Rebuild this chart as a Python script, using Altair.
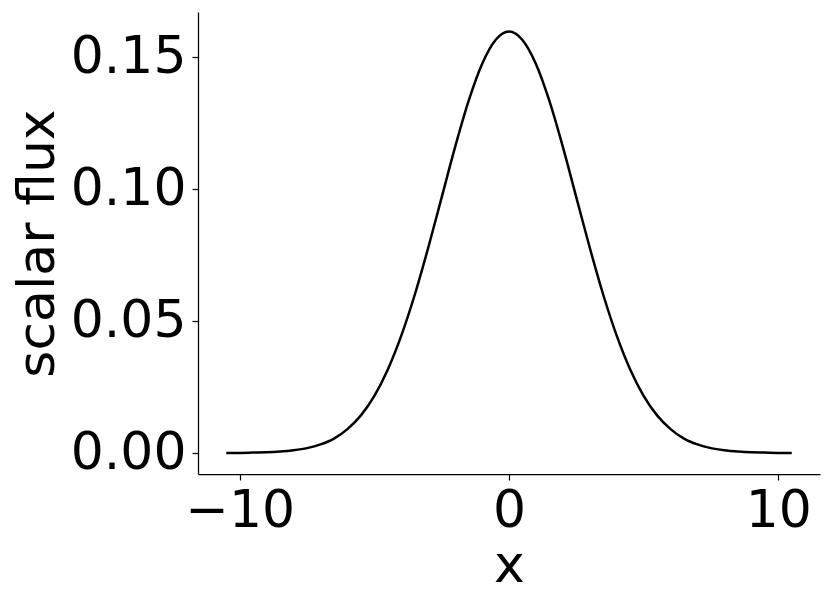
import altair as alt
import pandas as pd

# values
x_vals = [-10.5, -10.0, -9.5, -9.0, -8.5, -8.0, -7.5, -7.0, -6.5, -6.0, -5.5, -5.0,
          -4.5, -4.0, -3.5, -3.0, -2.5, -2.0, -1.5, -1.0, -0.5, 0.0,
          0.5, 1.0, 1.5, 2.0, 2.5, 3.0, 3.5, 4.0, 4.5, 5.0, 5.5, 6.0,
          6.5, 7.0, 7.5, 8.0, 8.5, 9.0, 9.5, 10.0, 10.5]
flux_vals = [0.0000, 0.0000, 0.0001, 0.0002, 0.0005, 0.0010, 0.0018, 0.0032, 0.0054, 0.0090, 0.0142, 0.0216,
             0.0316, 0.0444, 0.0599, 0.0777, 0.0968, 0.1159, 0.1333, 0.1473, 0.1564, 0.1596,
             0.1564, 0.1473, 0.1333, 0.1159, 0.0968, 0.0777, 0.0599, 0.0444, 0.0316, 0.0216, 0.0142, 0.0090,
             0.0054, 0.0032, 0.0018, 0.0010, 0.0005, 0.0002, 0.0001, 0.0000, 0.0000]
x_ticks = [-10, 0, 10]
y_ticks = [0.0, 0.05, 0.10, 0.15]

df = pd.DataFrame({"x": x_vals, "flux": flux_vals})

FONT = "DejaVu Sans"
FS = 52

chart = alt.Chart(df).mark_line(color="black", strokeWidth=2.5, interpolate="monotone").encode(
    x=alt.X("x:Q",
            scale=alt.Scale(domain=[-11.55, 11.55], nice=False, zero=False),
            axis=alt.Axis(values=x_ticks, title="x", format="d", grid=False,
                          domainColor="black", domainWidth=1.25, tickColor="black",
                          tickWidth=1.25, tickSize=6, labelPadding=5,
                          labelFont=FONT, labelFontSize=FS, labelColor="black",
                          titleFont=FONT, titleFontSize=FS, titleFontWeight="normal",
                          titleColor="black", titlePadding=4)),
    y=alt.Y("flux:Q",
            scale=alt.Scale(domain=[-0.008, 0.167], nice=False, zero=False),
            axis=alt.Axis(values=y_ticks, title="scalar flux", format=".2f", grid=False,
                          domainColor="black", domainWidth=1.25, tickColor="black",
                          tickWidth=1.25, tickSize=6, labelPadding=6,
                          labelFont=FONT, labelFontSize=FS, labelColor="black",
                          titleFont=FONT, titleFontSize=FS, titleFontWeight="normal",
                          titleColor="black", titlePadding=6)),
).properties(
    width=622,
    height=462,
    background="white",
    autosize=alt.AutoSizeParams(type="none"),
    padding={"left": 190, "top": 4, "right": 3, "bottom": 125},
).configure_view(strokeWidth=0)

chart.save("out.html", embed_options={"renderer": "svg", "actions": False})
